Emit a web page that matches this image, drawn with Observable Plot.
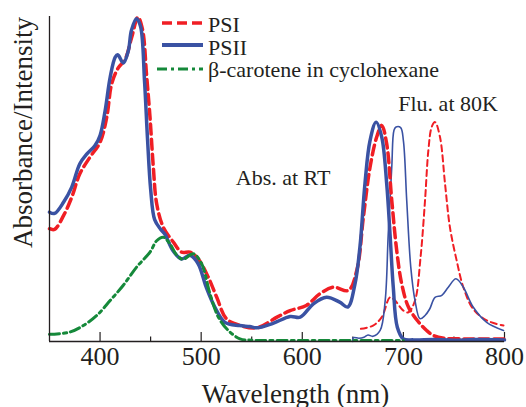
<!DOCTYPE html>
<html>
<head>
<meta charset="utf-8">
<script src="https://cdn.jsdelivr.net/npm/d3@7"></script>
<script src="https://cdn.jsdelivr.net/npm/@observablehq/plot@0.6"></script>
<style>
  html, body { margin: 0; padding: 0; background: #fff; }
  #chart { width: 526px; height: 407px; }
</style>
</head>
<body>
<div id="chart"></div>
<script>
// ---- data (y in arbitrary units 0-100) ----
const psiAbsWl  = [350,355,364,372,380,390,400,406.6,411.5,418,424.8,431.3,437.5,442,446,449.4,452.7,456,462.5,472.4,480.7,489,497,507,515.4,525,538,555,575,588,604,617.5,630.7,645.5,654,660.4,667,673.6,678.6,683.5,688.5,693.4,698.3,705,715,723,730,740,760,780,800];
const psiAbsVal = [34.7,34.5,38.8,44.4,51.6,56.7,61.3,69,79.3,84.2,86.8,93.6,99.8,96,82,69,53.6,42.4,35.2,30.6,27.5,27.5,25.4,19.8,13.6,7,5,4.2,7.5,9.5,11.1,14.7,16.7,15.7,22,38.2,53.6,62.9,66.5,60.8,43.4,28,17.8,10.6,6,3.4,1.8,1.0,0.8,0.8,0.8];

const psiiAbsWl  = [350,355,364,372,380,387,395,400,405,410,415,417.5,423,428,431,436,440,444,447,450,454,460,464,472,480.5,489,497,505,513.5,523.5,538,548,555,571,588,598,611,624,637,645,652,657,662,667,673,678.6,683.5,686.8,690,694,700,710,730,750,770,800];
const psiiAbsVal = [39.8,39.4,42.9,47.5,54.7,57.7,60.3,63.4,71,81.3,87.5,88.2,85.7,89.5,95.7,99.3,97,80,62,47,37.5,34.5,33.1,28,25.4,26.5,23.9,16.7,10.6,5.9,4.9,4.6,4.2,5.6,7.7,7.5,11.6,13.6,12.1,10.6,17.5,29,48.6,61.8,67.5,62.9,48.5,33,16.7,4.4,0.8,0.5,0.6,0.4,0.6,0.5];

const carWl  = [350,370,383.4,396.7,410,423,436.2,449.4,456,462.5,469.2,476,482,492.2,500.5,508.7,517,526.8,538.4,550,600,650,700];
const carVal = [2.2,2.9,4.9,8,12.6,17.3,22.9,27.5,31,32.1,30,26.5,25.3,27,23.9,14.7,7.5,3.4,0.8,0.4,0.3,0.3,0.3];

const psiFluWl  = [658,670,678.6,686.8,691.7,700,705,711.5,717,721.4,724.7,728,731.3,736.2,741.2,746,752.7,759.3,769,782.4,799];
const psiFluVal = [3.9,4.9,7.5,13.6,12.6,9.5,9,12.6,26,43.4,58.8,66,67.5,62.9,48.5,35.2,24.9,16.7,10,6.5,4.9];

const psiiFluWl  = [650,650.5,656,661,665,670,677,682,685,688.5,690.7,692.7,697.3,700,703.3,707.3,711.5,716.4,721.4,726,731.3,738,744.4,752,759.3,769,782.4,799];
const psiiFluVal = [0,1.2,1.0,1.3,2.0,1.6,3.4,12.6,33,53.6,65,66,65.8,61.8,43.4,22.9,12.6,7,8,10,13.6,14.2,16.7,19.3,16.7,10.6,5.9,3.4];

const majorTicks = [400, 500, 600, 700, 800];
const minorTicks = [450, 550, 650, 750];

const legendLabels = ["PSI", "PSII", "β-carotene in cyclohexane"];
const annotations = [
  {text: "Abs. at RT", wl: 581, val: 50.2},
  {text: "Flu. at 80K", wl: 744.2, val: 73.2}
];
const xTitle = "Wavelength (nm)";
const yTitle = "Absorbance/Intensity";

// ---- styles ----
const RED = "#f01e24", BLUE = "#3a52a3", GREEN = "#15893a", INK = "#231f20";
const FONT = "\"Liberation Serif\", \"Times New Roman\", serif";

const zip = (w, v) => w.map((d, i) => ({wl: d, val: v[i]}));
const psiAbs = zip(psiAbsWl, psiAbsVal);
const psiiAbs = zip(psiiAbsWl, psiiAbsVal);
const car = zip(carWl, carVal);
const psiFlu = zip(psiFluWl, psiFluVal);
const psiiFlu = zip(psiiFluWl, psiiFluVal);

const curve = "catmull-rom";

const chart = Plot.plot({
  width: 526,
  height: 407,
  marginLeft: 49,
  marginRight: 22,
  marginTop: 16,
  marginBottom: 66,
  x: {domain: [350, 800]},
  y: {domain: [0, 100], axis: null},
  style: {fontFamily: FONT, background: "#fff", color: INK},
  marks: [
    Plot.axisX({ticks: majorTicks, tickSize: 0, tickPadding: 5, fontSize: 26, label: null, tickFormat: d => String(d), fill: INK}),
    Plot.ruleX(majorTicks, {x: d => d, y1: 0, y2: 2.8, stroke: INK, strokeWidth: 1.2}),
    Plot.ruleX(minorTicks, {x: d => d, y1: 0, y2: 1.4, stroke: INK, strokeWidth: 1.2}),
    Plot.line(psiFlu, {x: "wl", y: "val", stroke: RED, strokeWidth: 2, strokeDasharray: "6,4", curve}),
    Plot.line(psiiFlu, {x: "wl", y: "val", stroke: BLUE, strokeWidth: 1.6, curve}),
    Plot.line(psiAbs, {x: "wl", y: "val", stroke: RED, strokeWidth: 3.5, strokeDasharray: "10,5", curve}),
    Plot.line(psiiAbs, {x: "wl", y: "val", stroke: BLUE, strokeWidth: 3.5, curve}),
    Plot.line(car, {x: "wl", y: "val", stroke: GREEN, strokeWidth: 3, strokeDasharray: "10,4,3,4", curve}),
    Plot.ruleY([0], {stroke: INK, strokeWidth: 1.3}),
    Plot.ruleX([350], {stroke: INK, strokeWidth: 1.3}),
    Plot.text(annotations, {x: "wl", y: "val", text: "text", fontSize: 22, fill: INK, textAnchor: "middle"}),
    Plot.text([xTitle], {frameAnchor: "bottom", text: d => d, dx: 18.5, dy: 61, fontSize: 27, fill: INK, textAnchor: "middle", lineAnchor: "bottom"}),
    Plot.text([yTitle], {frameAnchor: "left", text: d => d, rotate: -90, dx: -26.6, dy: -46.5, fontSize: 27, fill: INK, textAnchor: "middle"})
  ]
});

// legend (inside the plot, top)
const svg = d3.select(chart);
const lg = svg.append("g")
  .attr("text-anchor", "start")
  .style("font-family", FONT).style("font-size", "22px").attr("fill", INK);
const legendStyles = [
  {stroke: RED, width: 3.5, dash: "10,5", x1: 162, y: 23, ty: 32},
  {stroke: BLUE, width: 4, dash: null, x1: 162, y: 45, ty: 54.5},
  {stroke: GREEN, width: 3, dash: "10,4,3,4", x1: 157, y: 69, ty: 77}
];
legendLabels.forEach((label, i) => {
  const s = legendStyles[i];
  const l = lg.append("line").attr("x1", s.x1).attr("x2", 203).attr("y1", s.y).attr("y2", s.y)
    .attr("stroke", s.stroke).attr("stroke-width", s.width);
  if (s.dash) l.attr("stroke-dasharray", s.dash);
  lg.append("text").attr("x", 208).attr("y", s.ty).attr("text-anchor", "start")
    .style("font-size", "22px").text(label);
});

document.getElementById("chart").appendChild(chart);
</script>
</body>
</html>
